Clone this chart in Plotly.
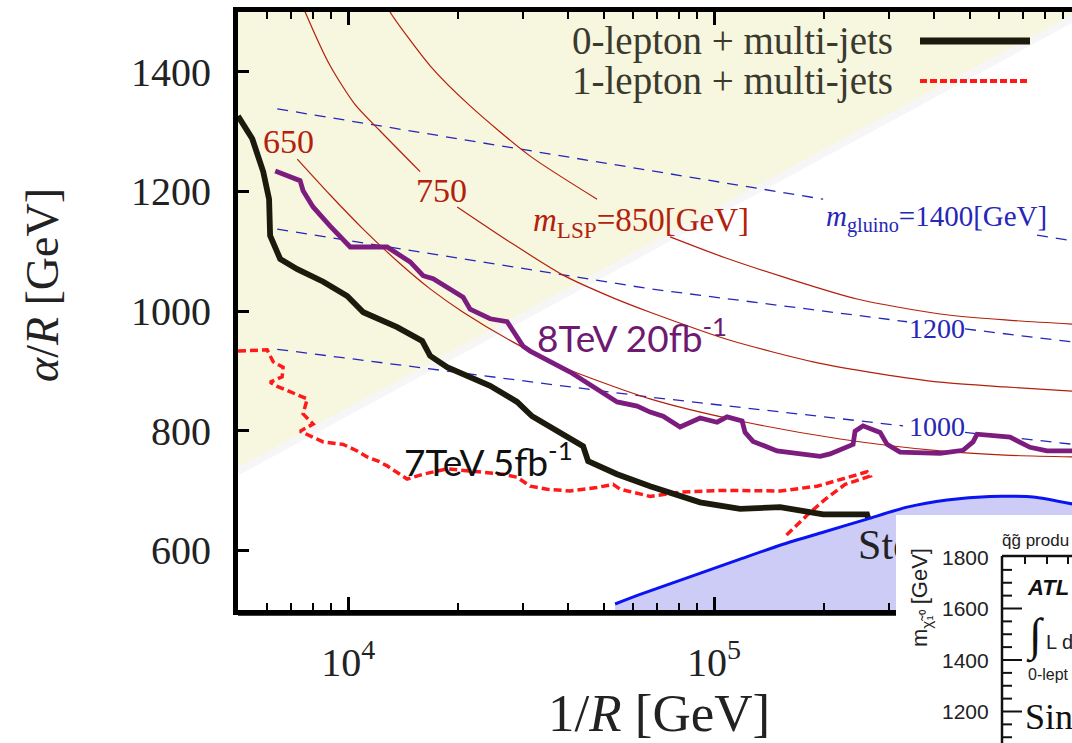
import math
import plotly.graph_objects as go

# ---------------- data ----------------
# 0-lepton + multi-jets limit (7 TeV, 5 fb^-1)
zero_lep_x = [5000, 5470, 5860, 6080, 6120, 6520, 7260, 8550, 9940, 11000, 13610, 15930, 16750,
              18640, 24430, 28950, 31820, 43860, 45260, 54330, 66850, 91560, 117800, 151500,
              198600, 261800, 263500]
zero_lep_y = [1326, 1288, 1233, 1187, 1126, 1087, 1070, 1049, 1025, 998, 973, 950, 925,
              906, 875, 848, 824, 774, 749, 727, 707, 680, 669, 672,
              660, 660, 654]

# 1-lepton + multi-jets limit (7 TeV)
one_lep_x = [5000, 6006, 6240, 6640, 6600, 6120, 6400, 7260, 7730, 7530, 8020, 7390, 8230, 8550,
             9690, 10580, 11270, 12080, 12780, 14490, 16030, 18640, 21950, 26520, 28950, 31440,
             34980, 40430, 47890, 52970, 55360, 66850, 80740, 105800, 151500, 191100, 261800,
             266800, 228000, 201100, 180600, 156300]
one_lep_y = [933, 935, 915, 906, 890, 881, 874, 861, 853, 828, 811, 799, 786, 781,
             777, 766, 756, 749, 741, 719, 727, 736, 732, 727, 722, 707,
             702, 699, 705, 710, 702, 690, 697, 700, 699, 707, 731,
             724, 710, 685, 660, 623]

# 8 TeV, 20 fb^-1 limit
lhc8_x = [6320, 7390, 7530, 8020, 8930, 10130, 12780, 14770, 16030, 17070, 20620, 21540, 24430,
          27190, 30080, 31440, 40430, 51020, 54330, 61610, 66850, 72560, 80740, 91560, 101900,
          108500, 119300, 121500, 127800, 148600, 194900, 207500, 239800, 242800, 255300,
          284200, 297000, 322300, 414500, 478900, 510200, 523200, 643900, 730200, 812400, 960000]
lhc8_y = [1234, 1218, 1201, 1174, 1142, 1107, 1107, 1082, 1059, 1054, 1023, 1003, 987,
          982, 941, 933, 898, 858, 848, 841, 831, 824, 806, 821, 814,
          823, 816, 797, 782, 766, 757, 761, 777, 799, 808,
          797, 777, 764, 762, 767, 781, 794, 789, 772, 766, 766]

# constant LSP mass contours (gaps leave room for the inline labels)
lsp650_x = [7260, 8930, 10990, 13870, 16750, 20620, 28240, 38680, 66850, 117800, 221000,
            414500, 623900, 960000]
lsp650_y = [1254, 1194, 1137, 1079, 1037, 998, 948, 906, 853, 816, 786, 766, 759, 756]
lsp750_x = [7440, 7630, 8930, 10450, 12230, 15730, None, 19860, 27710, 38680, 52970, 66850,
            110600, 186400, 284200, 414500, 623900, 960000]
lsp750_y = [1517, 1500, 1410, 1345, 1301, 1233, None, 1174, 1115, 1060, 1022, 998,
            951, 915, 895, 881, 873, 866]
lsp850_x = [12860, 13020, 16750, 21540, 31440, 47890, None, 75820, 107200, 154400, 245900,
            414500, 623900, 960000]
lsp850_y = [1509, 1500, 1410, 1343, 1259, 1187, None, 1124, 1089, 1057, 1020, 995, 985, 978]

# constant gluino mass contours
gl1400_x = [6400, 26020, 198600, None, 762900, 960000]
gl1400_y = [1338, 1276, 1187, None, 1127, 1117]
gl1200_x = [6400, 66850, 336800, None, 485000, 960000]
gl1200_y = [1137, 1037, 982, None, 970, 948]
gl1000_x = [6400, 66850, 328400, None, 485000, 960000]
gl1000_y = [936, 856, 808, None, 797, 777]

# theoretically disfavoured wedge (upper left)
wedge_x = [5000, 1000000, 5000]
wedge_y = [739, 1503, 1503]

# lower-right excluded region boundary
bound_x = [53640, 62790, 117800, 154400, 198600, 261800, 336800, 433100, 567700, 744100, 960000]
bound_y = [510, 526, 585, 610, 630, 652, 672, 684, 690, 689, 677]

x_ticks = [1e4, 1e5]
x_ticktext = ["10<sup>4</sup>", "10<sup>5</sup>"]
x_minor = [m * 10 ** e for e in (3, 4, 5) for m in range(2, 10) if 5000 <= m * 10 ** e <= 960000]
y_ticks = [600, 800, 1000, 1200, 1400]

inset_ticks = [1800, 1600, 1400, 1200]

# ---------------- styling ----------------
SERIF = "Liberation Serif"
SANS = "Liberation Sans"
CAL = "Lato"
BEIGE = "#f7f6df"
LAV = "#ccccf7"
BROWN = "#b3200c"
NAVY = "#2626b8"
PURPLE = "#7c1c7e"
INK = "#1b1a0c"

W, H = 1072, 743
L, T, R, B = 238, 12, 1072, 610


def fx(p):
    return (p - L) / (R - L)


def fy(p):
    return (B - p) / (B - T)


fig = go.Figure()

# soft shadow under the wedge edge, then the wedge itself
px_per_unit = (B - T) / 1000.0
shadow_y = [v - 4 / px_per_unit for v in wedge_y[:2]]
fig.add_trace(go.Scatter(x=wedge_x[:2], y=shadow_y, mode="lines",
                         line=dict(color="rgba(0,0,0,0.035)", width=8), hoverinfo="skip"))
fig.add_trace(go.Scatter(x=wedge_x, y=wedge_y, mode="lines", fill="toself",
                         fillcolor=BEIGE, line=dict(width=0), hoverinfo="skip"))

# excluded region fill
fig.add_trace(go.Scatter(x=bound_x, y=bound_y, mode="lines", fill="tozeroy",
                         fillcolor=LAV, line=dict(width=0, shape="spline", smoothing=0.6),
                         hoverinfo="skip"))

# gluino mass contours
for gx, gy in ((gl1400_x, gl1400_y), (gl1200_x, gl1200_y), (gl1000_x, gl1000_y)):
    fig.add_trace(go.Scatter(x=gx, y=gy, mode="lines", connectgaps=False,
                             line=dict(color=NAVY, width=1.3, dash="11px,8px")))

# LSP mass contours
for cx, cy in ((lsp650_x, lsp650_y), (lsp750_x, lsp750_y), (lsp850_x, lsp850_y)):
    fig.add_trace(go.Scatter(x=cx, y=cy, mode="lines", connectgaps=False,
                             line=dict(color=BROWN, width=1.2, shape="spline", smoothing=0.7)))

# limits
fig.add_trace(go.Scatter(x=lhc8_x, y=lhc8_y, mode="lines",
                         line=dict(color=PURPLE, width=4.8)))
fig.add_trace(go.Scatter(x=one_lep_x, y=one_lep_y, mode="lines",
                         line=dict(color="#ff1a1a", width=3.5, dash="8px,4px")))
fig.add_trace(go.Scatter(x=zero_lep_x, y=zero_lep_y, mode="lines",
                         line=dict(color=INK, width=5.8)))

# boundary line of the lower-right region
fig.add_trace(go.Scatter(x=bound_x, y=bound_y, mode="lines",
                         line=dict(color="#0a14f0", width=3, shape="spline", smoothing=0.6)))

# region label (drawn as a trace so the inset panel covers its tail)
fig.add_trace(go.Scatter(x=[247400], y=[603], mode="text", text=["Ste"],
                         textposition="middle right",
                         textfont=dict(family=SERIF, size=42, color="#222222")))

annotations = []


def text(t, x, y, size, color, family=SERIF, xanchor="center", angle=0):
    annotations.append(dict(text=t, x=fx(x), y=fy(y), xref="paper", yref="paper",
                            showarrow=False, xanchor=xanchor, yanchor="middle",
                            textangle=angle,
                            font=dict(family=family, size=size, color=color)))


# axis titles
text("<i>α</i>/<i>R</i> [GeV]", 42, 285, 46, "#222222", angle=-90)
text("1/<i>R</i> [GeV]", 659, 713, 53, "#222222")

# legend
text("0-lepton + multi-jets", 895, 41, 39, "#3a3a2e", xanchor="right")
text("1-lepton + multi-jets", 895, 81, 39, "#3a3a2e", xanchor="right")

# contour labels
text("650", 288, 142, 34, BROWN)
text("750", 441, 190, 34, BROWN)
text("<i>m</i><sub>LSP</sub>=850[GeV]", 641, 222, 33, BROWN)
text("<i>m</i><sub>gluino</sub>=1400[GeV]", 936, 218, 29, NAVY)
text("1200", 937, 328, 28, NAVY)
text("1000", 937, 426, 28, NAVY)

# limit labels
text("8TeV 20fb<sup>-1</sup>", 632, 335, 37, "#6e1a70", family=CAL)
text("7TeV 5fb<sup>-1</sup>", 488, 459, 37, "#111111", family=CAL)

shapes = []
# legend samples
shapes.append(dict(type="line", xref="paper", yref="paper", x0=fx(920), x1=fx(1030),
                   y0=fy(41), y1=fy(41), line=dict(color=INK, width=7)))
shapes.append(dict(type="line", xref="paper", yref="paper", x0=fx(920), x1=fx(1030),
                   y0=fy(81), y1=fy(81), line=dict(color="#ff1a1a", width=4, dash="7px,3px")))
# thin rule under the bottom axis
shapes.append(dict(type="line", xref="paper", yref="paper", x0=fx(238), x1=fx(896),
                   y0=fy(615), y1=fy(615), line=dict(color="black", width=1.5), layer="above"))

# inset panel (ATLAS figure)
shapes.append(dict(type="rect", xref="paper", yref="paper", x0=fx(896), x1=fx(1080),
                   y0=fy(750), y1=fy(515), fillcolor="white", line=dict(width=0), layer="above"))
shapes.append(dict(type="line", xref="paper", yref="paper", x0=fx(1002), x1=fx(1002),
                   y0=fy(750), y1=fy(556), line=dict(color="#111111", width=2.5), layer="above"))
shapes.append(dict(type="line", xref="paper", yref="paper", x0=fx(1002), x1=fx(1080),
                   y0=fy(556), y1=fy(556), line=dict(color="#111111", width=2.5), layer="above"))


def inset_y(v):
    return 557 + (1800 - v) * 51.5 / 200


v = 1850
while inset_y(v) < 750:
    if inset_y(v) > 560:
        major = v % 200 == 0
        shapes.append(dict(type="line", xref="paper", yref="paper", x0=fx(1002),
                           x1=fx(1002 + (20 if major else 10)), y0=fy(inset_y(v)),
                           y1=fy(inset_y(v)), line=dict(color="#111111", width=2),
                           layer="above"))
    v -= 50
for tx in (1025, 1047, 1068):
    shapes.append(dict(type="line", xref="paper", yref="paper", x0=fx(tx), x1=fx(tx),
                       y0=fy(556), y1=fy(564), line=dict(color="#111111", width=2),
                       layer="above"))

for tv in inset_ticks:
    text(str(tv), 991, inset_y(tv), 21, "#222222", family=SANS, xanchor="right")
text("q\u0303g\u0303 produ", 1000, 540, 17, "#222222", family=SANS, xanchor="left")
text("m<sub>χ\u0303₁⁰</sub> [GeV]", 921, 598, 22, "#222222", family=SANS, angle=-90)
text("<b><i>ATL</i></b>", 1025, 587, 22, "#111111", family=SANS, xanchor="left")
text("∫", 1024, 636, 46, "#111111", family=SERIF, xanchor="left")
text("L d", 1044, 642, 20, "#222222", family=SANS, xanchor="left")
text("0-lept", 1026, 674, 16, "#222222", family=SANS, xanchor="left")
text("Sin", 1023, 717, 36, "#111111", family=SERIF, xanchor="left")

fig.update_layout(
    width=W, height=H,
    margin=dict(l=L, r=W - R, t=T, b=H - B, pad=0),
    paper_bgcolor="white", plot_bgcolor="white",
    showlegend=False,
    annotations=annotations,
    shapes=shapes,
    xaxis=dict(type="log", range=[math.log10(5000), math.log10(950800)],
               tickmode="array", tickvals=x_ticks, ticktext=x_ticktext,
               ticks="inside", ticklen=13, tickwidth=3, tickcolor="black",
               minor=dict(tickmode="array", tickvals=x_minor, ticks="inside",
                          ticklen=7, tickwidth=2, tickcolor="black"),
               showline=True, linewidth=5, linecolor="black", mirror="ticks",
               showgrid=False, zeroline=False, ticklabelstandoff=13,
               tickfont=dict(family=SERIF, size=40, color="#222222")),
    yaxis=dict(range=[500, 1500], tickmode="array", tickvals=y_ticks,
               ticks="inside", ticklen=11, tickwidth=3, tickcolor="black",
               showline=True, linewidth=5, linecolor="black",
               showgrid=False, zeroline=False, ticklabelstandoff=14,
               tickfont=dict(family=SERIF, size=40, color="#222222")),
)

fig.write_html("out.html")
